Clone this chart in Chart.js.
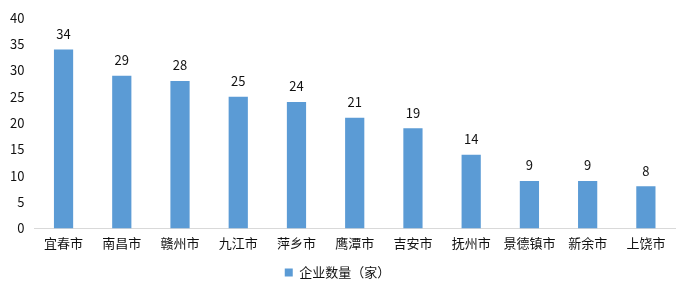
<!DOCTYPE html>
<html><head><meta charset="utf-8">
<script src="https://cdn.jsdelivr.net/npm/chart.js@4/dist/chart.umd.min.js"></script>
<style>html,body{margin:0;padding:0;background:#fff}#wrap{width:692px;height:305px}</style>
</head><body><div id="wrap"><canvas id="c"></canvas></div>
<script>
const categories = ["宜春市","南昌市","赣州市","九江市","萍乡市","鹰潭市","吉安市","抚州市","景德镇市","新余市","上饶市"];
const values = [34,29,28,25,24,21,19,14,9,9,8];
const seriesName = "企业数量（家）";
const yTicks = [0,5,10,15,20,25,30,35,40];
const FONT = "'Noto Sans CJK SC', 'Noto Sans', sans-serif";

const labelPlugin = {
  id: 'valLabels',
  afterDatasetsDraw(chart) {
    const ctx = chart.ctx;
    const meta = chart.getDatasetMeta(0);
    ctx.save();
    ctx.font = "13px " + FONT;
    ctx.fillStyle = "#111";
    ctx.textAlign = "center";
    ctx.textBaseline = "bottom";
    meta.data.forEach((bar, i) => {
      ctx.fillText(String(values[i]), bar.x, bar.y - 9);
    });
    ctx.restore();
  }
};

new Chart(document.getElementById('c'), {
  type: 'bar',
  data: {
    labels: categories,
    datasets: [{
      label: seriesName,
      data: values,
      backgroundColor: '#5B9BD5',
      categoryPercentage: 1.0,
      barPercentage: 0.33
    }]
  },
  options: {
    responsive: true,
    maintainAspectRatio: false,
    animation: false,
    layout: { padding: { left: 0, right: 17, top: 7, bottom: 16 } },
    plugins: {
      legend: {
        position: 'bottom',
        labels: { boxWidth: 8, boxHeight: 8, color: '#111', font: { size: 13, family: FONT }, padding: 8 }
      },
      tooltip: { enabled: false }
    },
    scales: {
      x: {
        grid: { display: false, drawTicks: false },
        border: { display: true, color: '#d9d9d9', width: 1 },
        ticks: { color: '#111', font: { size: 13, family: FONT }, padding: 7, maxRotation: 0, autoSkip: false }
      },
      y: {
        min: 0, max: 40,
        afterBuildTicks(axis) { axis.ticks = yTicks.map(v => ({ value: v })); },
        grid: { display: false, drawTicks: false },
        border: { display: false },
        ticks: { color: '#111', font: { size: 13, family: FONT }, padding: 10 }
      }
    }
  },
  plugins: [labelPlugin]
});
</script></body></html>
